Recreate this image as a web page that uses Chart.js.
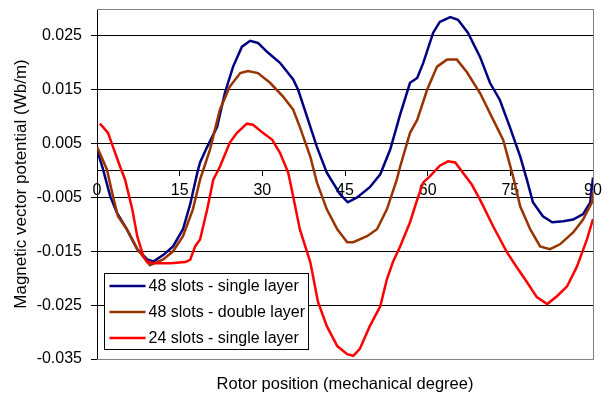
<!DOCTYPE html>
<html>
<head>
<meta charset="utf-8">
<script src="https://cdn.jsdelivr.net/npm/chart.js@4.4.0/dist/chart.umd.min.js"></script>
<style>
  html, body { margin: 0; padding: 0; background: #fff; }
  #wrap { width: 607px; height: 396px; }
</style>
</head>
<body>
<div id="wrap"><canvas id="graph" width="607" height="396"></canvas></div>
<script>
const navy =   'rgb(0, 0, 128)'
const brown =  'rgb(153, 51, 0)'
const red =    'rgb(255, 0, 0)'
const grey =   'rgb(128, 128, 128)'
const FONT = '"Liberation Sans", Arial, sans-serif'

const seriesLabels = ['48 slots - single layer', '48 slots - double layer', '24 slots - single layer']
const xTicks = [0, 15, 30, 45, 60, 75, 90]
const yTicks = [-0.035, -0.025, -0.015, -0.005, 0.005, 0.015, 0.025]

// 48 slots - single layer
const angle48Single = [0, 1.1, 2.4, 3.6, 5.4, 7.3, 9.1, 10.2, 12.0, 13.8, 15.6, 16.9, 18.2, 18.7, 20.0, 21.8,
  23.2, 24.7, 26.3, 27.8, 29.2, 30.9, 33.2, 35.6, 36.5, 38.1, 39.9, 41.7, 44.1, 45.5, 47.2, 49.5, 51.4,
  53.2, 55.0, 56.8, 58.1, 59.2, 61.0, 62.2, 64.1, 65.5, 67.3, 69.5, 71.3, 73.1, 74.9, 76.8, 78.0, 79.1,
  80.9, 82.6, 84.6, 86.4, 88.2, 89.5, 90]
const pot48Single = [0.0039, 0.0002, -0.0048, -0.0078, -0.0109, -0.0146, -0.0165, -0.0169, -0.0157, -0.0141, -0.0109, -0.0063, -0.0004, 0.0015, 0.0044, 0.0081,
  0.0144, 0.0193, 0.0230, 0.0241, 0.0237, 0.0220, 0.0200, 0.0169, 0.0150, 0.0100, 0.0044, -0.0004, -0.0044, -0.0059, -0.0050, -0.0031, -0.0007,
  0.0039, 0.0104, 0.0163, 0.0172, 0.0200, 0.0256, 0.0276, 0.0285, 0.0280, 0.0256, 0.0211, 0.0163, 0.0131, 0.0081, 0.0026, -0.0017, -0.0059,
  -0.0085, -0.0096, -0.0094, -0.0091, -0.0081, -0.0059, -0.0013]

// 48 slots - double layer
const angle48Double = [0, 1.8, 2.9, 3.8, 5.4, 7.3, 9.6, 12.0, 13.8, 15.6, 17.4, 18.7, 20.5, 22.3, 24.1, 26.0,
  27.4, 29.2, 31.4, 33.8, 35.6, 36.8, 38.7, 39.9, 41.7, 43.6, 45.4, 46.5, 49.0, 50.8, 52.6, 54.4, 55.0,
  56.8, 58.1, 59.9, 61.7, 63.5, 65.3, 67.1, 69.5, 71.9, 73.7, 75.5, 76.8, 78.6, 80.4, 82.2, 84.0, 86.4,
  88.2, 89.8, 90]
const pot48Double = [0.0044, 0.0002, -0.0048, -0.0085, -0.0109, -0.0146, -0.0176, -0.0165, -0.0150, -0.0122, -0.0072, -0.0017, 0.0039, 0.0113, 0.0156, 0.0181,
  0.0185, 0.0181, 0.0163, 0.0137, 0.0113, 0.0081, 0.0026, -0.0022, -0.0072, -0.0109, -0.0133, -0.0133, -0.0122, -0.0109, -0.0072, -0.0017, 0.0007,
  0.0070, 0.0094, 0.0150, 0.0193, 0.0206, 0.0206, 0.0183, 0.0144, 0.0094, 0.0057, -0.0011, -0.0067, -0.0109, -0.0141, -0.0146, -0.0137, -0.0115,
  -0.0091, -0.0059, -0.0040]

// 24 slots - single layer
const angle24Single = [0.5, 0.9, 2.0, 2.9, 4.2, 5.1, 6.4, 7.3, 8.4, 9.1, 10.5, 13.3, 16.0, 16.9, 17.8, 18.7,
  20.0, 21.1, 22.3, 24.1, 25.4, 27.2, 28.3, 30.1, 31.8, 33.2, 34.7, 35.6, 36.8, 38.7, 40.1, 41.7, 43.6,
  45.4, 46.5, 47.7, 49.5, 51.4, 52.6, 53.7, 55.0, 56.8, 58.1, 59.2, 60.4, 62.2, 63.7, 65.0, 66.4, 68.0,
  69.5, 71.9, 74.4, 76.2, 78.0, 79.8, 81.7, 83.5, 85.3, 87.1, 88.9, 90]
const pot24Single = [0.0087, 0.0083, 0.0070, 0.0044, 0.0007, -0.0017, -0.0072, -0.0122, -0.0159, -0.0170, -0.0172, -0.0172, -0.0170, -0.0166, -0.0141, -0.0128,
  -0.0072, -0.0017, 0.0007, 0.0052, 0.0070, 0.0087, 0.0085, 0.0070, 0.0057, 0.0033, -0.0004, -0.0048, -0.0109, -0.0170, -0.0244, -0.0289, -0.0326,
  -0.0341, -0.0344, -0.0331, -0.0289, -0.0252, -0.0202, -0.0170, -0.0141, -0.0096, -0.0054, -0.0022, -0.0011, 0.0009, 0.0017, 0.0015, -0.0004, -0.0026,
  -0.0054, -0.0104, -0.0152, -0.0180, -0.0207, -0.0235, -0.0248, -0.0233, -0.0215, -0.0178, -0.0128, -0.0090]

function toPoints(xs, ys) {
    return xs.map((x, i) => ({x: x, y: ys[i]}))
}

// grey frame round the plot area (top, right, bottom)
const frame = {
    id: 'frame',
    beforeDatasetsDraw(chart) {
        const {ctx, chartArea: a} = chart
        ctx.save()
        ctx.strokeStyle = grey
        ctx.lineWidth = 1
        ctx.beginPath()
        ctx.moveTo(a.left, Math.round(a.top) + 0.5)
        ctx.lineTo(Math.round(a.right) + 0.5, Math.round(a.top) + 0.5)
        ctx.lineTo(Math.round(a.right) + 0.5, Math.round(a.bottom) + 0.5)
        ctx.lineTo(a.left, Math.round(a.bottom) + 0.5)
        ctx.stroke()
        ctx.restore()
    }
}

// boxed legend inside the plot, lower left
const boxLegend = {
    id: 'boxLegend',
    afterDraw(chart) {
        const {ctx, chartArea: a} = chart
        const x0 = Math.round(a.left) + 7.5
        const y0 = Math.round(a.bottom) - 85.5
        const w = 204, h = 76
        ctx.save()
        ctx.fillStyle = '#fff'
        ctx.fillRect(x0, y0, w, h)
        ctx.strokeStyle = '#000'
        ctx.lineWidth = 1
        ctx.strokeRect(x0, y0, w, h)
        ctx.font = '16px ' + FONT
        ctx.textBaseline = 'middle'
        chart.data.datasets.forEach((ds, i) => {
            const y = y0 + 12.5 + i * 26
            ctx.strokeStyle = ds.borderColor
            ctx.lineWidth = 2.5
            ctx.beginPath()
            ctx.moveTo(x0 + 5, y)
            ctx.lineTo(x0 + 41, y)
            ctx.stroke()
            ctx.fillStyle = '#000'
            ctx.fillText(ds.label, x0 + 44, y + 1)
        })
        ctx.restore()
    }
}

const myChart = new Chart(document.getElementById('graph'), {
    type: 'line',
    data: {
        datasets: [
            {
                label: seriesLabels[0],
                data: toPoints(angle48Single, pot48Single),
                borderColor: navy,
                order: 3
            },
            {
                label: seriesLabels[1],
                data: toPoints(angle48Double, pot48Double),
                borderColor: brown,
                order: 2
            },
            {
                label: seriesLabels[2],
                data: toPoints(angle24Single, pot24Single),
                borderColor: red,
                order: 1
            }
        ]
    },
    options: {
        responsive: false,
        animation: false,
        devicePixelRatio: 1,
        layout: {padding: {top: 9, right: 14, left: 0, bottom: 0}},
        elements: {
            line: {borderWidth: 2.5, tension: 0, fill: false},
            point: {radius: 0}
        },
        plugins: {
            legend: {display: false},
            tooltip: {enabled: false}
        },
        scales: {
            x: {
                type: 'linear',
                position: {y: 0},
                min: 0,
                max: 90,
                afterBuildTicks: (s) => { s.ticks = xTicks.map(v => ({value: v})) },
                ticks: {
                    autoSkip: false,
                    maxRotation: 0,
                    padding: 5,
                    color: '#000',
                    font: {family: FONT, size: 16}
                },
                grid: {drawOnChartArea: false, tickLength: 5, color: '#000'},
                border: {color: '#000', width: 1}
            },
            x2: {
                type: 'linear',
                position: 'bottom',
                min: 0,
                max: 90,
                ticks: {display: false},
                grid: {display: false},
                border: {display: false},
                title: {
                    display: true,
                    text: 'Rotor position (mechanical degree)',
                    color: '#000',
                    font: {family: FONT, size: 16.5},
                    padding: {top: 0, bottom: 2}
                },
                afterFit: (s) => {
                    s.height = 37
                    s.paddingLeft = 0
                    s.paddingRight = 0
                }
            },
            y: {
                min: -0.035,
                max: 0.03,
                afterBuildTicks: (s) => { s.ticks = yTicks.map(v => ({value: v})) },
                afterFit: (s) => {
                    s.width = 97
                    s.paddingTop = 0
                    s.paddingBottom = 0
                },
                ticks: {
                    padding: 9,
                    color: '#000',
                    font: {family: FONT, size: 16},
                    callback: (v) => v.toFixed(3)
                },
                grid: {
                    tickLength: 6,
                    color: (c) => (c.tick && c.tick.value === -0.035) ? grey : '#000',
                    tickColor: '#000'
                },
                border: {color: '#000', width: 1},
                title: {
                    display: true,
                    text: 'Magnetic vector potential (Wb/m)',
                    color: '#000',
                    font: {family: FONT, size: 17},
                    padding: {top: 11, bottom: 0}
                }
            }
        }
    },
    plugins: [frame, boxLegend]
});
</script>
</body>
</html>
